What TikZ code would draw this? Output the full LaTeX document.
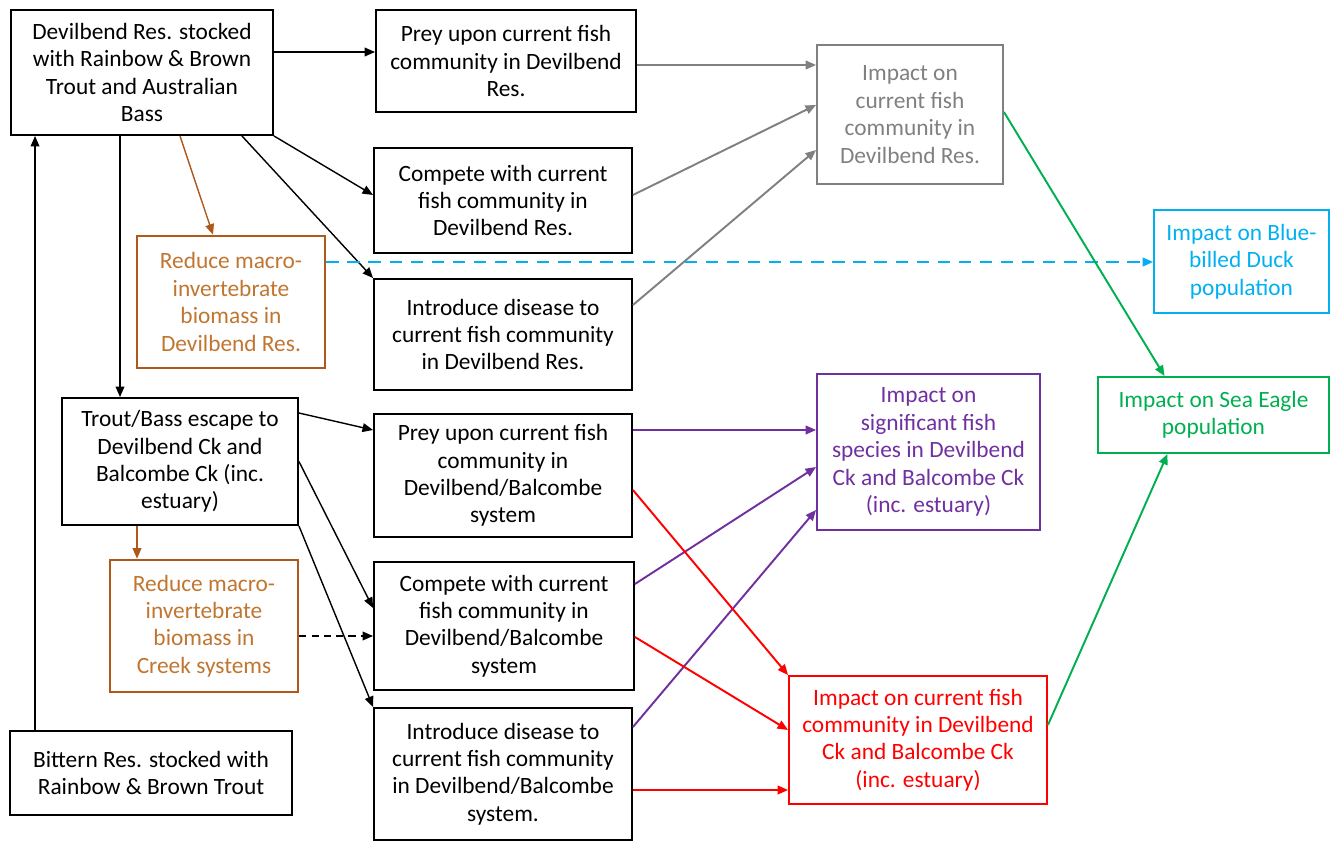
\documentclass[tikz,border=0pt]{standalone}
\usepackage{fontspec}
\setmainfont{Carlito}
\usetikzlibrary{arrows.meta}

\definecolor{impgrey}{RGB}{128,128,128}
\definecolor{impbrown}{RGB}{175,88,25}
\definecolor{impbrowntext}{RGB}{192,118,48}
\definecolor{impblue}{RGB}{0,176,240}
\definecolor{impgreen}{RGB}{0,176,80}
\definecolor{imppurple}{RGB}{112,48,160}
\definecolor{impred}{RGB}{255,0,0}

\tikzset{
  box/.style={draw, line width=1.1pt, align=center, inner sep=2pt,
    font=\fontsize{13.3}{15.6}\selectfont},
  greybox/.style={box, draw=impgrey, text=impgrey},
  brownbox/.style={box, line width=1.5pt, draw=impbrown, text=impbrowntext},
  bluebox/.style={box, draw=impblue, text=impblue},
  greenbox/.style={box, draw=impgreen, text=impgreen},
  purplebox/.style={box, draw=imppurple, text=imppurple},
  redbox/.style={box, draw=impred, text=impred},
  arr/.style={-{Triangle[length=6pt,width=5pt]}, line width=0.8pt},
  carr/.style={arr, line width=1.1pt},
}

\begin{document}
\begin{tikzpicture}[x=0.02cm, y=-0.02cm]
\useasboundingbox (0,0) rectangle (1330,841);

% left column
\node[box, minimum width=5.24cm, minimum height=2.5cm] (stockA) at (142,72.5)
  {Devilbend Res. stocked\\with Rainbow \& Brown\\Trout and Australian\\Bass};
\node[brownbox, minimum width=3.76cm, minimum height=2.64cm] (macroA) at (231,302)
  {Reduce macro-\\invertebrate\\biomass in\\Devilbend Res.};
\node[box, minimum width=4.72cm, minimum height=2.54cm] (escape) at (180,461.5)
  {Trout/Bass escape to\\Devilbend Ck and\\Balcombe Ck (inc.\\estuary)};
\node[brownbox, minimum width=3.76cm, minimum height=2.64cm] (macroB) at (204,626)
  {Reduce macro-\\invertebrate\\biomass in\\Creek systems};
\node[box, minimum width=5.64cm, minimum height=1.68cm] (bittern) at (151,773)
  {Bittern Res. stocked with\\Rainbow \& Brown Trout};

% middle column
\node[box, minimum width=5.2cm, minimum height=2.04cm] (preyA) at (506,61)
  {Prey upon current fish\\community in Devilbend\\Res.};
\node[box, minimum width=5.16cm, minimum height=2.1cm] (compA) at (503,200.5)
  {Compete with current\\fish community in\\Devilbend Res.};
\node[box, minimum width=5.16cm, minimum height=2.22cm] (disA) at (503,334.5)
  {Introduce disease to\\current fish community\\in Devilbend Res.};
\node[box, minimum width=5.16cm, minimum height=2.46cm] (preyB) at (503,475.5)
  {Prey upon current fish\\community in\\Devilbend/Balcombe\\system};
\node[box, minimum width=5.2cm, minimum height=2.56cm] (compB) at (504,626)
  {Compete with current\\fish community in\\Devilbend/Balcombe\\system};
\node[box, minimum width=5.16cm, minimum height=2.64cm] (disB) at (503,774)
  {Introduce disease to\\current fish community\\in Devilbend/Balcombe\\system.};

% impacts
\node[greybox, minimum width=3.72cm, minimum height=2.78cm] (impA) at (910,114.5)
  {Impact on\\current fish\\community in\\Devilbend Res.};
\node[purplebox, minimum width=4.46cm, minimum height=3.12cm] (signif) at (928.5,452)
  {Impact on\\significant fish\\species in Devilbend\\Ck and Balcombe Ck\\(inc. estuary)};
\node[redbox, minimum width=5.16cm, minimum height=2.56cm] (impB) at (918,740)
  {Impact on current fish\\community in Devilbend\\Ck and Balcombe Ck\\(inc. estuary)};
\node[bluebox, minimum width=3.5cm, minimum height=2.06cm] (duck) at (1241.5,261.5)
  {Impact on Blue-\\billed Duck\\population};
\node[greenbox, minimum width=4.62cm, minimum height=1.52cm] (eagle) at (1213.5,415)
  {Impact on Sea Eagle\\population};

% stocking and escape
\draw[arr] ([yshift=0.41cm]stockA.east) -- ([yshift=0.41cm]stockA.east -| preyA.west);
\draw[arr] (stockA.south east) -- ([yshift=0.11cm]compA.west);
\draw[arr] ([xshift=-0.64cm]stockA.south east) -- (disA.north west);
\draw[arr] ([xshift=-0.44cm]stockA.south) -- ([xshift=-0.44cm]stockA.south |- escape.north);
\draw[arr, impbrown] ([xshift=0.76cm]stockA.south) -- ([xshift=-0.36cm]macroA.north);
\draw[arr] ([xshift=-2.32cm]bittern.north) -- ([xshift=-2.32cm]bittern.north |- stockA.south);
\draw[arr] ([yshift=0.97cm]escape.east) -- ([yshift=0.91cm]preyB.west);
\draw[arr] (escape.east) -- ([yshift=0.36cm]compB.west);
\draw[arr] (escape.south east) -- (disB.north west);
\draw[arr, impbrown] ([xshift=-0.86cm]escape.south) -- ([xshift=-0.86cm]escape.south |- macroB.north);
\draw[arr, dashed, dash pattern=on 4pt off 3pt] ([yshift=-0.2cm]macroB.east) -- ([yshift=-0.2cm]macroB.east -| compB.west);

% reservoir impacts
\draw[carr, impgrey] ([yshift=-0.08cm]preyA.east) -- ([yshift=-0.08cm]preyA.east -| impA.west);
\draw[carr, impgrey] ([yshift=0.11cm]compA.east) -- ([yshift=0.19cm]impA.west);
\draw[carr, impgrey] ([yshift=0.59cm]disA.east) -- ([yshift=-0.71cm]impA.west);
\draw[carr, impblue, dash pattern=on 7pt off 5pt] ([yshift=0.8cm]macroA.east) -- ([yshift=0.8cm]macroA.east -| duck.west);

% creek impacts
\draw[carr, imppurple] ([yshift=0.91cm]preyB.east) -- ([yshift=0.91cm]preyB.east -| signif.west);
\draw[carr, imppurple] ([yshift=0.84cm]compB.east) -- ([yshift=-0.3cm]signif.west);
\draw[carr, imppurple] ([yshift=0.94cm]disB.east) -- ([yshift=-1.16cm]signif.west);
\draw[carr, impred] ([yshift=-0.29cm]preyB.east) -- (impB.north west);
\draw[carr, impred] ([yshift=-0.22cm]compB.east) -- ([yshift=0.2cm]impB.west);
\draw[carr, impred] ([yshift=-0.32cm]disB.east) -- ([yshift=-0.32cm]disB.east -| impB.west);

% sea eagle
\draw[carr, impgreen] ([yshift=0.05cm]impA.east) -- ([xshift=-0.98cm]eagle.north);
\draw[carr, impgreen] ([yshift=0.3cm]impB.east) -- ([xshift=-0.92cm]eagle.south);
\end{tikzpicture}
\end{document}
